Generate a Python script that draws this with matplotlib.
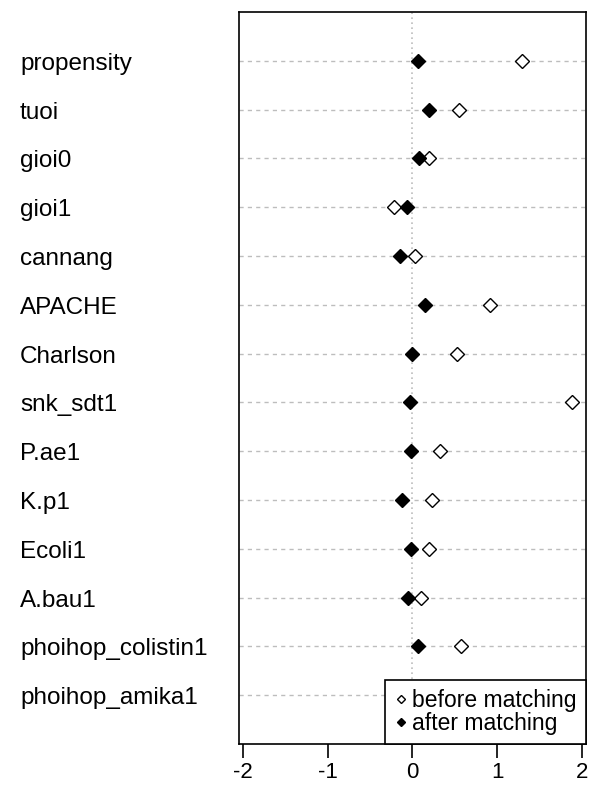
import matplotlib.pyplot as plt
import numpy as np
from matplotlib.transforms import blended_transform_factory

variables = ["propensity", "tuoi", "gioi0", "gioi1", "cannang", "APACHE",
             "Charlson", "snk_sdt1", "P.ae1", "K.p1", "Ecoli1", "A.bau1",
             "phoihop_colistin1", "phoihop_amika1"]
before = [1.29, 0.545, 0.20, -0.22, 0.035, 0.91,
          0.525, 1.89, 0.33, 0.225, 0.20, 0.095,
          0.57, 0.30]
after = [0.06, 0.19, 0.075, -0.07, -0.15, 0.145,
         -0.01, -0.03, -0.015, -0.12, -0.015, -0.055,
         0.06, 0.02]
xticks = [-2, -1, 0, 1, 2]

plt.rcParams['font.family'] = ['Liberation Sans', 'DejaVu Sans']

fig = plt.figure(figsize=(5.91, 7.88), dpi=100)
ax = fig.add_axes([0.4044, 0.0558, 0.5871, 0.929])

n = len(variables)
ypos = np.arange(n, 0, -1)

# dashed guide lines for each variable, dotted line at zero
for y in ypos:
    ax.axhline(y, color='#bdbdbd', linestyle=(0, (3, 3)), linewidth=1, zorder=1)
ax.axvline(0, color='#bdbdbd', linestyle=(0, (1, 2)), linewidth=1.2, zorder=1)

ax.plot(before, ypos, linestyle='none', marker='D', markersize=7,
        markerfacecolor='white', markeredgecolor='black', markeredgewidth=1,
        label='before matching', zorder=3)
ax.plot(after, ypos, linestyle='none', marker='D', markersize=7,
        markerfacecolor='black', markeredgecolor='black',
        label='after matching', zorder=3)

ax.set_xlim(-2.05, 2.05)
ax.set_ylim(0, n + 1)
ax.set_xticks(xticks)
ax.set_xticklabels([str(t) for t in xticks], fontsize=16)
ax.tick_params(axis='x', length=10, width=1.2, pad=3)
ax.set_yticks([])

# variable names, left aligned in the figure margin
trans = blended_transform_factory(fig.transFigure, ax.transData)
for y, name in zip(ypos, variables):
    ax.annotate(name, xy=(20 / 591, y), xycoords=trans,
                xytext=(0, -6.5), textcoords='offset points',
                fontsize=17.5, ha='left', va='baseline', annotation_clip=False)

for sp in ax.spines.values():
    sp.set_linewidth(1.2)

leg = ax.legend(loc='lower right', fontsize=16.5, frameon=True, fancybox=False,
                borderaxespad=0, handlelength=0.6, handletextpad=0.2,
                borderpad=0.4, labelspacing=0.0, markerscale=0.65)
leg.get_frame().set_edgecolor('black')
leg.get_frame().set_linewidth(1.2)
leg.get_frame().set_alpha(1)
leg.set_zorder(5)

fig.savefig('out.png', dpi=100)
